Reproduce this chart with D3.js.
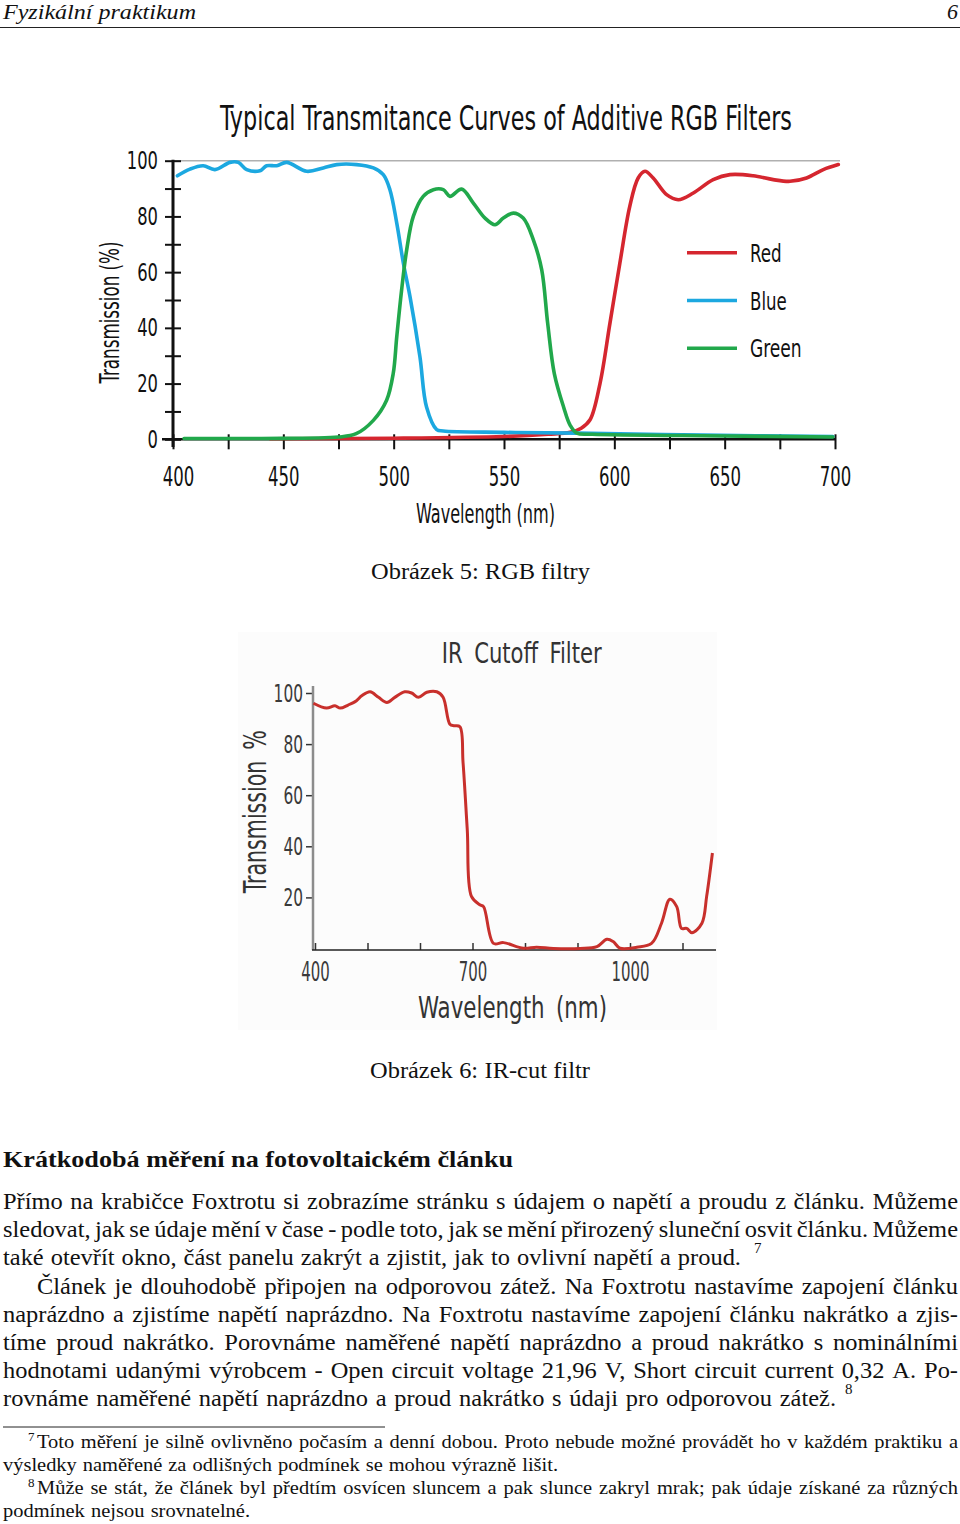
<!DOCTYPE html>
<html lang="cs">

<head>
  <meta charset="UTF-8">
  <title>Fyzikální praktikum 6</title>
  <style>
    body { margin: 0; background: #fff; }
    svg { display: block; }
    .chart text { font-family: 'Liberation Sans Narrow', 'DejaVu Sans Condensed', 'Open Sans', sans-serif; font-stretch: condensed; }
    .doc text { font-family: 'Liberation Serif', 'DejaVu Serif', serif; fill: #111; }
  </style>
</head>

<body>
  <div id="page"></div>

  <script src="https://d3js.org/d3.v7.min.js"></script>
  <script>
    // ---- chart 1: RGB filters (wavelength nm, transmission %) ----
    const redNm = [444, 500, 550, 570, 580, 585, 589, 593.5, 598, 602.5, 607, 610.8, 613.9, 617.6, 623.7, 629, 635.8, 644.8, 652.4, 662.9, 672, 679.6, 687.1, 694.7, 701.5]
    const redPct = [0.2, 0.4, 1, 1.8, 2.5, 4, 7, 20, 41.6, 63.2, 83.6, 93.8, 96.2, 93.8, 87.8, 86, 88.4, 93.2, 95, 94.6, 93.2, 92.6, 93.8, 96.8, 98.6]

    const blueNm = [402, 407.7, 413.7, 419, 425.8, 429.6, 433.4, 439.4, 442.4, 447, 451.5, 460.6, 468.1, 474.2, 483.2, 490.8, 495.3, 498.3, 501.4, 504.4, 507.4, 511.9, 514.9, 519.5, 522.5, 550, 583, 640, 699]
    const bluePct = [94.6, 97, 98.2, 96.8, 99.4, 99.4, 96.8, 96.4, 98.2, 98.2, 99.4, 96.2, 97.4, 98.6, 98.6, 97.4, 95, 89.6, 77.6, 63.2, 51.2, 29.6, 11.6, 3.5, 3, 2.5, 2.2, 1.5, 1]

    const greenNm = [405, 440, 475, 483, 490.8, 496.8, 499.8, 501.4, 503.6, 505.9, 508.9, 513.4, 518, 522.5, 525.5, 530.8, 536.1, 541.4, 545.9, 549.7, 554.2, 558.7, 563.3, 567.1, 569.8, 572.8, 577, 580, 583, 590, 650, 699]
    const greenPct = [0.3, 0.3, 0.8, 2, 6.8, 14, 23.6, 36.8, 53.6, 68, 80, 87.2, 89.6, 89.6, 87.2, 89.8, 84.8, 79.4, 77, 79.4, 81.2, 79.4, 71.6, 60.8, 41.6, 23.6, 11.6, 5, 2.2, 1.8, 1.2, 0.8]

    const seriesNames = ['Red', 'Blue', 'Green']
    const seriesColors = ['#d5262f', '#1ca8e0', '#21a84b']
    const rgbYTicks = [0, 10, 20, 30, 40, 50, 60, 70, 80, 90, 100]
    const rgbXTicks = [400, 425, 450, 475, 500, 525, 550, 575, 600, 625, 650, 675, 700]

    // ---- chart 2: IR cutoff filter ----
    const irNm = [397, 422, 438, 448, 463, 479, 489, 505, 521, 537, 552, 571, 584, 597, 613, 632, 644, 657, 665, 676, 682, 690, 698, 714, 721, 740, 759, 797, 822, 854, 905, 937, 956, 968, 981, 1013, 1041, 1060, 1076, 1089, 1098, 1108, 1118, 1137, 1146, 1157]
    const irPct = [96, 94.1, 95, 94.1, 95.3, 97, 98.9, 100.5, 98.3, 96.3, 98.3, 100.5, 100, 98.3, 100.3, 100.5, 98.3, 87.8, 87.2, 86.8, 72.8, 46.6, 20.4, 17.1, 16.4, 2, 2.3, 0.1, 0.5, 0, 0, 0.7, 3.6, 2.7, 0.1, 0.5, 2, 9.9, 19.3, 16.4, 7.9, 7.9, 6.2, 9.9, 20.4, 37.4]
    const irXTicks = [400, 500, 600, 700, 800, 900, 1000, 1100]
    const irXLabels = [400, 700, 1000]
    const irYTicks = [20, 40, 60, 80, 100]

    const width = 960
    const height = 1524

    const svg = d3.select('#page').append('svg')
      .attr('width', width)
      .attr('height', height)

    svg.append('rect').attr('width', width).attr('height', height).attr('fill', '#fff')

    // squeeze a label into a given width (the originals use a condensed face)
    function fit(sel, w) {
      sel.attr('textLength', w).attr('lengthAdjust', 'spacingAndGlyphs')
    }

    // centre a text on (cx, y) and scale it horizontally to width w
    function scaleTo(sel, cx, y, w) {
      const nat = sel.node().getComputedTextLength()
      sel.attr('text-anchor', 'middle')
        .attr('transform', `translate(${cx},${y}) scale(${w / nat},1)`)
    }

    /*******  chart 1  *******/
    const g1 = svg.append('g').attr('class', 'chart')
    const x1 = d3.scaleLinear().domain([400, 700]).range([173, 835])
    const y1 = d3.scaleLinear().domain([0, 100]).range([439.3, 160.7])

    g1.append('line')
      .attr('x1', x1(400)).attr('x2', 840)
      .attr('y1', y1(100)).attr('y2', y1(100))
      .attr('stroke', '#b0b0b0').attr('stroke-width', 1.5)

    const ya1 = g1.append('g')
      .attr('transform', `translate(${x1(400)},0)`)
      .call(d3.axisLeft(y1).tickValues(rgbYTicks)
        .tickFormat(d => d % 20 === 0 ? d : '')
        .tickSizeInner(8).tickSizeOuter(0).tickPadding(7))
    ya1.select('.domain').remove()
    ya1.selectAll('.tick line').attr('x1', 8).attr('stroke', '#111').attr('stroke-width', 2)
    ya1.selectAll('.tick text').attr('font-size', 25).attr('fill', '#111')
      .each(function () { if (this.textContent) fit(d3.select(this), this.textContent.length * 10.4) })
    g1.append('line')
      .attr('x1', x1(400)).attr('x2', x1(400))
      .attr('y1', y1(100) - 1).attr('y2', 447)
      .attr('stroke', '#111').attr('stroke-width', 3)

    const xa1 = g1.append('g')
      .attr('transform', `translate(0,${y1(0)})`)
      .call(d3.axisBottom(x1).tickValues(rgbXTicks)
        .tickFormat(d => d % 50 === 0 ? d : '')
        .tickSizeInner(10).tickSizeOuter(0).tickPadding(18))
    xa1.select('.domain').remove()
    xa1.selectAll('.tick line').attr('y1', -5).attr('stroke', '#111').attr('stroke-width', 2)
    xa1.selectAll('.tick text').attr('font-size', 27).attr('fill', '#111')
      .attr('dx', d => d === 400 ? 5 : 0)
      .each(function () { if (this.textContent) fit(d3.select(this), this.textContent.length * 10.5) })
    g1.append('line')
      .attr('x1', 162).attr('x2', x1(700))
      .attr('y1', y1(0)).attr('y2', y1(0))
      .attr('stroke', '#111').attr('stroke-width', 2.5)

    const line1 = d3.line()
      .x(d => x1(d[0]))
      .y(d => y1(d[1]))
      .curve(d3.curveCatmullRom.alpha(0.5))

    const rgbData = [d3.zip(redNm, redPct), d3.zip(blueNm, bluePct), d3.zip(greenNm, greenPct)]
    g1.selectAll('path.curve')
      .data(rgbData)
      .join('path')
      .attr('class', 'curve')
      .attr('d', line1)
      .attr('fill', 'none')
      .attr('stroke', (d, i) => seriesColors[i])
      .attr('stroke-width', 3.6)
      .attr('stroke-linejoin', 'round')
      .attr('stroke-linecap', 'round')

    // legend
    const leg = g1.selectAll('g.leg')
      .data(seriesNames)
      .join('g')
      .attr('class', 'leg')
      .attr('transform', (d, i) => `translate(687,${252.7 + i * 47.8})`)
    leg.append('line')
      .attr('x2', 50)
      .attr('stroke', (d, i) => seriesColors[i])
      .attr('stroke-width', 3.6)
    leg.append('text')
      .attr('x', 63).attr('dy', '0.36em')
      .attr('font-size', 25).attr('fill', '#111')
      .text(d => d)
      .each(function (d) { fit(d3.select(this), [31.7, 36.7, 51.7][seriesNames.indexOf(d)]) })

    scaleTo(g1.append('text')
      .attr('font-size', 34).attr('fill', '#111')
      .text('Typical Transmitance Curves of Additive RGB Filters'), 506, 129.5, 572)

    fit(g1.append('text')
      .attr('transform', 'translate(119,312.5) rotate(-90)')
      .attr('text-anchor', 'middle')
      .attr('font-size', 27).attr('fill', '#111')
      .text('Transmission (%)'), 142)

    fit(g1.append('text')
      .attr('x', 485.5).attr('y', 523)
      .attr('text-anchor', 'middle')
      .attr('font-size', 27).attr('fill', '#111')
      .text('Wavelength (nm)'), 139)

    /*******  chart 2  *******/
    const g2 = svg.append('g').attr('class', 'chart')
    const x2 = d3.scaleLinear().domain([400, 1000]).range([315, 630])
    const y2 = d3.scaleLinear().domain([0, 100]).range([948.5, 693])

    g2.append('rect')
      .attr('x', 238).attr('y', 632).attr('width', 479).attr('height', 398)
      .attr('fill', '#fcfcfc')

    const ya2 = g2.append('g')
      .attr('transform', 'translate(313,0)')
      .call(d3.axisLeft(y2).tickValues(irYTicks).tickSizeInner(7).tickSizeOuter(0).tickPadding(3))
    ya2.select('.domain').remove()
    ya2.selectAll('.tick line').attr('stroke', '#333').attr('stroke-width', 1.5)
    ya2.selectAll('.tick text').attr('font-size', 25).attr('fill', '#3a3a3a')
      .each(function () { fit(d3.select(this), this.textContent.length * 9.8) })
    g2.append('line')
      .attr('x1', 313).attr('x2', 313).attr('y1', 686).attr('y2', 950)
      .attr('stroke', '#8c8c8c').attr('stroke-width', 2.5)

    const xa2 = g2.append('g')
      .attr('transform', 'translate(0,950)')
      .call(d3.axisBottom(x2).tickValues(irXTicks)
        .tickFormat(d => irXLabels.includes(d) ? d : '')
        .tickSizeInner(0).tickSizeOuter(0).tickPadding(12))
    xa2.select('.domain').remove()
    xa2.selectAll('.tick line').attr('y2', -7).attr('stroke', '#333').attr('stroke-width', 1.5)
    xa2.selectAll('.tick text').attr('font-size', 27).attr('fill', '#3a3a3a')
      .each(function () { if (this.textContent) fit(d3.select(this), this.textContent.length * 9.5) })
    g2.append('line')
      .attr('x1', 312).attr('x2', 716).attr('y1', 950).attr('y2', 950)
      .attr('stroke', '#222').attr('stroke-width', 1.6)

    g2.append('path')
      .datum(d3.zip(irNm, irPct))
      .attr('d', d3.line().x(d => x2(d[0])).y(d => y2(d[1])).curve(d3.curveCatmullRom.alpha(0.5)))
      .attr('fill', 'none')
      .attr('stroke', '#c8302c')
      .attr('stroke-width', 3)
      .attr('stroke-linejoin', 'round')

    fit(g2.append('text')
      .attr('x', 521.7).attr('y', 663)
      .attr('text-anchor', 'middle')
      .attr('font-size', 29).attr('fill', '#333')
      .attr('word-spacing', 6)
      .text('IR Cutoff Filter'), 160)

    fit(g2.append('text')
      .attr('transform', 'translate(266,811.7) rotate(-90)')
      .attr('text-anchor', 'middle')
      .attr('font-size', 32).attr('fill', '#333')
      .attr('word-spacing', 6)
      .text('Transmission %'), 163)

    fit(g2.append('text')
      .attr('x', 512.5).attr('y', 1018)
      .attr('text-anchor', 'middle')
      .attr('font-size', 31).attr('fill', '#333')
      .attr('word-spacing', 6)
      .text('Wavelength (nm)'), 189)

    /*******  page text  *******/
    const doc = svg.append('g').attr('class', 'doc')

    // measure the words of a line at a given size
    function measure(str, size) {
      const t = doc.append('text').attr('font-size', size)
      const w = str.split(' ').map(s => { t.text(s); return t.node().getComputedTextLength() })
      t.remove()
      return w
    }

    // horizontal stretch that gives a ragged line its natural inter-word space
    function stretchFor(str, x0, x1, size, space) {
      const w = measure(str, size)
      return (x1 - x0 - space * (w.length - 1)) / d3.sum(w)
    }

    // set a line word by word (Liberation Serif is narrower than the original face,
    // so every word is widened by k), stretching the gaps so it runs from x0 to x1
    function setLine(str, x0, x1, y, size, k) {
      const words = str.split(' ')
      const w = measure(str, size).map(v => v * k)
      const gap = (x1 - x0 - d3.sum(w)) / Math.max(1, words.length - 1)
      let x = x0
      words.forEach((s, i) => {
        fit(doc.append('text').attr('x', x).attr('y', y).attr('font-size', size).text(s), w[i])
        x += w[i] + gap
      })
    }

    // running head
    fit(doc.append('text').attr('x', 3).attr('y', 19).attr('font-size', 22)
      .attr('font-style', 'italic').text('Fyzikální praktikum'), 193)
    doc.append('text').attr('x', 947).attr('y', 19).attr('font-size', 22)
      .attr('font-style', 'italic').text('6')
    doc.append('line').attr('x1', 0).attr('x2', 960).attr('y1', 27.5).attr('y2', 27.5)
      .attr('stroke', '#222').attr('stroke-width', 1.2)

    const body = [
      ['Přímo na krabičce Foxtrotu si zobrazíme stránku s údajem o napětí a proudu z článku. Můžeme', 3, 958],
      ['sledovat, jak se údaje mění v čase - podle toto, jak se mění přirozený sluneční osvit článku. Můžeme', 3, 958],
      ['také otevřít okno, část panelu zakrýt a zjistit, jak to ovlivní napětí a proud.', 3, 741],
      ['Článek je dlouhodobě připojen na odporovou zátež. Na Foxtrotu nastavíme zapojení článku', 37, 958],
      ['naprázdno a zjistíme napětí naprázdno. Na Foxtrotu nastavíme zapojení článku nakrátko a zjis-', 3, 958],
      ['tíme proud nakrátko. Porovnáme naměřené napětí naprázdno a proud nakrátko s nominálními', 3, 958],
      ['hodnotami udanými výrobcem - Open circuit voltage 21,96 V, Short circuit current 0,32 A. Po-', 3, 958],
      ['rovnáme naměřené napětí naprázdno a proud nakrátko s údaji pro odporovou zátež.', 3, 836]
    ]
    const bodyY = [1209, 1237, 1265, 1294, 1322, 1350, 1378, 1406]
    const bodySize = 23
    const kBody = stretchFor(body[2][0], body[2][1], body[2][2], bodySize, 7)

    // captions
    setLine('Obrázek 5: RGB filtry', 371, 590, 579, bodySize, kBody)
    setLine('Obrázek 6: IR-cut filtr', 370, 590, 1078, bodySize, kBody)

    // section heading
    fit(doc.append('text').attr('x', 3).attr('y', 1167).attr('font-size', 24)
      .attr('font-weight', 'bold').text('Krátkodobá měření na fotovoltaickém článku'), 510)

    body.forEach((l, i) => setLine(l[0], l[1], l[2], bodyY[i], bodySize, kBody))
    doc.append('text').attr('x', 754).attr('y', 1253).attr('font-size', 15).text('7')
    doc.append('text').attr('x', 845).attr('y', 1394).attr('font-size', 15).text('8')

    // footnotes
    doc.append('line').attr('x1', 3).attr('x2', 385).attr('y1', 1427).attr('y2', 1427)
      .attr('stroke', '#222').attr('stroke-width', 1)
    const notes = [
      ['Toto měření je silně ovlivněno počasím a denní dobou. Proto nebude možné provádět ho v každém praktiku a', 37, 958],
      ['výsledky naměřené za odlišných podmínek se mohou výrazně lišit.', 3, 558],
      ['Může se stát, že článek byl předtím osvícen sluncem a pak slunce zakryl mrak; pak údaje získané za různých', 37, 958],
      ['podmínek nejsou srovnatelné.', 3, 250]
    ]
    const notesY = [1448, 1471, 1494, 1517]
    const noteSize = 19
    const kNote = stretchFor(notes[1][0], notes[1][1], notes[1][2], noteSize, 6)
    notes.forEach((l, i) => setLine(l[0], l[1], l[2], notesY[i], noteSize, kNote))
    doc.append('text').attr('x', 28).attr('y', 1441).attr('font-size', 13).text('7')
    doc.append('text').attr('x', 28).attr('y', 1487).attr('font-size', 13).text('8')
  </script>
</body>

</html>
